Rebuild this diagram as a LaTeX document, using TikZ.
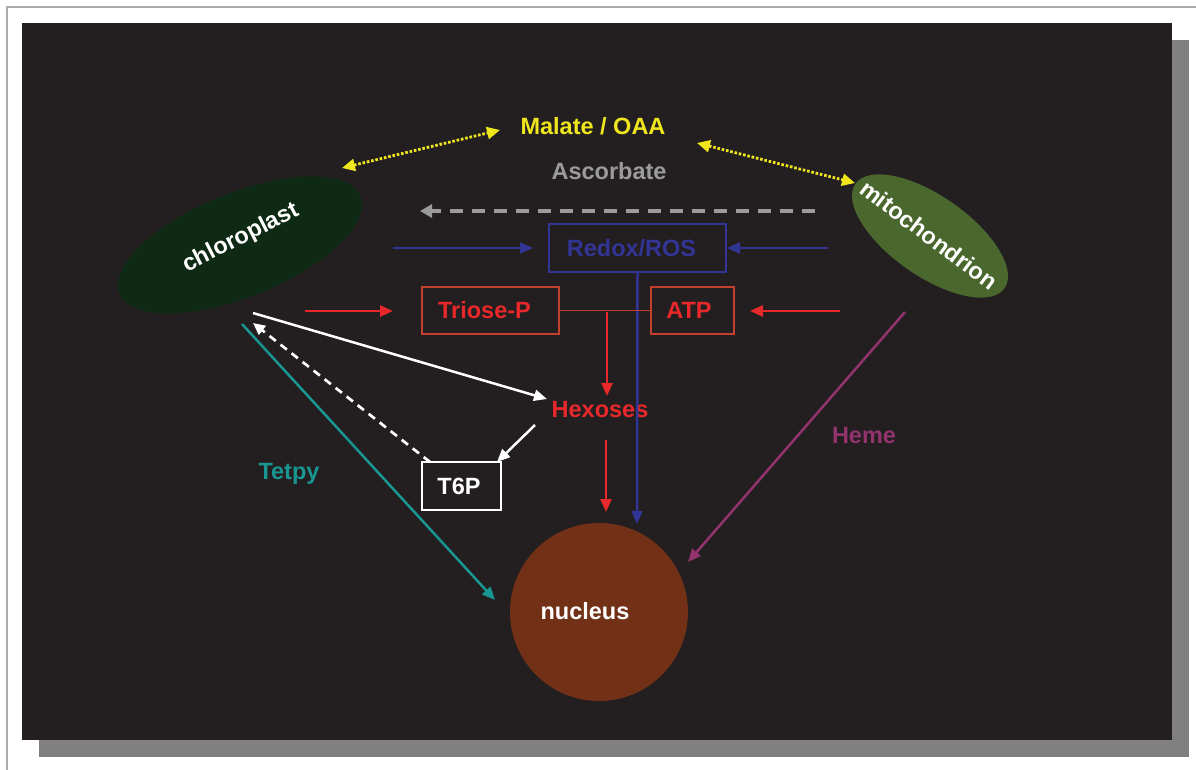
\documentclass[tikz,border=0pt]{standalone}
\usepackage{fontspec}
\setmainfont{Liberation Sans}
\usetikzlibrary{shapes.geometric,arrows.meta}
\definecolor{bg}{RGB}{35,31,32}
\definecolor{shadowgray}{RGB}{128,128,128}
\definecolor{framegray}{RGB}{170,170,170}
\definecolor{chloro}{RGB}{14,42,20}
\definecolor{mito}{RGB}{74,104,45}
\definecolor{nuc}{RGB}{114,48,22}
\definecolor{yel}{RGB}{240,230,30}
\definecolor{asc}{RGB}{155,155,155}
\definecolor{blu}{RGB}{50,52,150}
\definecolor{redt}{RGB}{232,40,42}
\definecolor{redb}{RGB}{196,64,46}
\definecolor{teal}{RGB}{26,150,146}
\definecolor{heme}{RGB}{147,51,110}
\begin{document}
\begin{tikzpicture}[x=1pt,y=-1pt,
  lbl/.style={font=\bfseries\fontsize{23.5}{28}\selectfont, inner sep=0pt},
  arr/.style={line width=2.5pt, -{Triangle[length=13pt,width=11pt]}},
  boxnode/.style={draw, line width=1.9pt, inner sep=0pt, font=\bfseries\fontsize{23.5}{28}\selectfont}]
\useasboundingbox (0,0) rectangle (1196,770);
% frame, shadow, background
\fill[white] (0,0) rectangle (1196,770);
\draw[framegray, line width=1.2pt] (7,770) -- (7,7) -- (1196,7);
\fill[shadowgray] (39,40) rectangle (1189,757);
\fill[bg] (22,23) rectangle (1172,740);

% organelles
\node[ellipse, fill=chloro, minimum width=260pt, minimum height=104pt, inner sep=0pt, rotate=22] (chl) at (240,245) {};
\node[lbl, text=white, rotate=27] (chltext) at (241,238) {chloroplast};
\node[ellipse, fill=mito, minimum width=182pt, minimum height=80pt, inner sep=0pt, rotate=-35] (mit) at (930,236) {};
\node[lbl, text=white, rotate=-37] (mittext) at (929,235) {mitochondrion};
\node[circle, fill=nuc, minimum size=178pt, inner sep=0pt] (nuc) at (599,612) {};
\node[lbl, text=white] (nuctext) at (585,611) {nucleus};

% labels
\node[lbl, text=yel] (malate) at (593,126) {Malate / OAA};
\node[lbl, text=asc] (ascorbate) at (609,171) {Ascorbate};
\node[lbl, text=redt] (hex) at (600,410) {Hexoses};
\node[lbl, text=teal] (tetpy) at (289,474) {Tetpy};
\node[lbl, text=heme] (hemetext) at (864,436) {Heme};

% boxes
\node[boxnode, draw=blu, text=blu, minimum width=177pt, minimum height=48pt] (redox) at (637.5,248) {\hspace*{-12pt}Redox/ROS};
\node[boxnode, draw=redb, text=redt, minimum width=137pt, minimum height=47pt] (triose) at (490.5,310.5) {\hspace*{-12pt}Triose-P};
\node[boxnode, draw=redb, text=redt, minimum width=83pt, minimum height=47pt] (atp) at (692.5,310.5) {\hspace*{-7pt}ATP};
\node[boxnode, draw=white, text=white, minimum width=79pt, minimum height=48pt] (t6p) at (461.5,486) {\hspace*{-5pt}T6P};

% coordinates
\coordinate (y1a) at (342,168);
\coordinate (y1b) at (500,130);
\coordinate (y2a) at (697,143);
\coordinate (y2b) at (855,183);
\coordinate (g1) at (815,211);
\coordinate (g2) at (420,211);
\coordinate (b1) at (393,248);
\coordinate (b1t) at (533,248);
\coordinate (b2) at (828,248);
\coordinate (bdown) at (637,524);
\coordinate (r1) at (305,311);
\coordinate (r1t) at (393,311);
\coordinate (r2) at (840,311);
\coordinate (r2t) at (750,311);
\coordinate (junc) at (607,312);
\coordinate (juncT) at (607,396);
\coordinate (hexB) at (606,440);
\coordinate (hexBt) at (606,512);
\coordinate (w1) at (253,313);
\coordinate (w1t) at (547,399);
\coordinate (w2) at (535,425);
\coordinate (w2t) at (497,462);
\coordinate (wd) at (430,462);
\coordinate (wdt) at (253,323);
\coordinate (tl) at (242,324);
\coordinate (tlt) at (495,600);
\coordinate (hm) at (905,312);
\coordinate (hmt) at (688,562);

% yellow dotted double arrows
\draw[yel, line width=2.8pt, dash pattern=on 2.6pt off 1.8pt, {Triangle[length=13pt,width=12pt]}-{Triangle[length=13pt,width=12pt]}] (y1a) -- (y1b);
\draw[yel, line width=2.8pt, dash pattern=on 2.6pt off 1.8pt, {Triangle[length=13pt,width=12pt]}-{Triangle[length=13pt,width=12pt]}] (y2a) -- (y2b);

% gray dashed
\draw[asc, line width=4pt, dash pattern=on 13pt off 9pt, -{Triangle[length=12pt,width=13pt]}] (g1) -- (g2);

% blue
\draw[blu, arr] (b1) -- (b1t);
\draw[blu, arr] (b2) -- (redox.east);
\draw[blu, arr] (redox.south) -- (bdown);

% red
\draw[redt, arr] (r1) -- (r1t);
\draw[redt, arr] (r2) -- (r2t);
\draw[redb, line width=1.9pt] (triose.east) -- (atp.west);
\draw[redt, arr] (junc) -- (juncT);
\draw[redt, arr] (hexB) -- (hexBt);

% white
\draw[white, arr] (w1) -- (w1t);
\draw[white, arr] (w2) -- (w2t);
\draw[white, line width=2.7pt, dash pattern=on 8pt off 6pt, -{Triangle[length=12pt,width=11pt]}] (wd) -- (wdt);

% teal and heme
\draw[teal, arr] (tl) -- (tlt);
\draw[heme, arr] (hm) -- (hmt);
\end{tikzpicture}
\end{document}
